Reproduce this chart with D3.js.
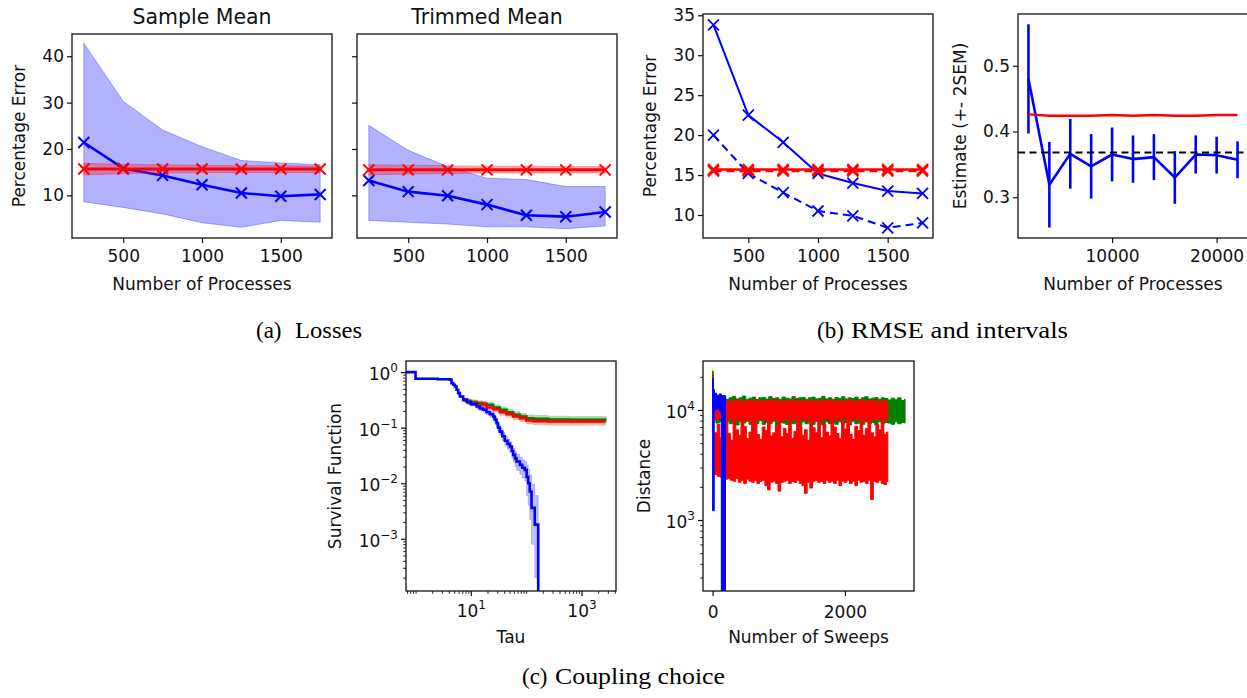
<!DOCTYPE html>
<html><head><meta charset="utf-8">
<script src="https://cdn.jsdelivr.net/npm/d3@7"></script>
<style>body{margin:0;background:#fff}svg{display:block}</style>
</head><body>
<svg id="chart" width="1247" height="698"></svg>
<script>
// ---------------- DATA ----------------
const processes = [250, 500, 750, 1000, 1250, 1500, 1750];
const lossYTicks = [10, 20, 30, 40];
const lossXTicks = [500, 1000, 1500];

// (a) Sample Mean
const smBlue   = [21.4, 15.8, 14.3, 12.3, 10.5, 9.8, 10.2];
const smBlueLo = [8.6, 7.4, 6.0, 4.1, 3.1, 4.6, 4.2];
const smBlueHi = [42.8, 30.3, 24.1, 20.5, 17.5, 17.0, 16.6];
const smRed    = [15.7, 15.7, 15.7, 15.7, 15.7, 15.7, 15.7];
const smRedLo  = [14.4, 14.7, 14.8, 14.9, 14.9, 14.9, 14.9];
const smRedHi  = [16.9, 16.7, 16.6, 16.5, 16.4, 16.4, 16.3];
// (a) Trimmed Mean
const tmBlue   = [13.2, 10.8, 9.9, 8.0, 5.7, 5.4, 6.4];
const tmBlueLo = [4.6, 4.2, 3.8, 3.2, 3.2, 2.8, 3.4];
const tmBlueHi = [25.1, 19.7, 16.2, 13.7, 13.4, 11.9, 11.9];
const tmRed    = [15.5, 15.5, 15.5, 15.5, 15.5, 15.5, 15.5];
const tmRedLo  = [14.4, 14.6, 14.7, 14.8, 14.8, 14.8, 14.8];
const tmRedHi  = [16.6, 16.5, 16.4, 16.3, 16.3, 16.2, 16.2];

// (b) RMSE
const rmseBlueSolid  = [33.8, 22.5, 19.1, 15.2, 14.0, 13.0, 12.7];
const rmseBlueDashed = [20.0, 15.2, 12.8, 10.5, 9.9, 8.4, 9.0];
const rmseRedSolid   = [15.7, 15.7, 15.7, 15.7, 15.7, 15.7, 15.7];
const rmseRedDashed  = [15.5, 15.5, 15.5, 15.5, 15.5, 15.5, 15.5];
const rmseYTicks = [10, 15, 20, 25, 30, 35];

// (b) intervals
const estProcesses = [2000, 4000, 6000, 8000, 10000, 12000, 14000, 16000, 18000, 20000, 22000];
const estBlue    = [0.480, 0.319, 0.366, 0.347, 0.365, 0.358, 0.361, 0.330, 0.365, 0.364, 0.357];
const estBlueErr = [0.083, 0.065, 0.053, 0.049, 0.041, 0.036, 0.035, 0.040, 0.029, 0.028, 0.028];
const estRed     = [0.426, 0.424, 0.424, 0.424, 0.425, 0.424, 0.425, 0.424, 0.424, 0.425, 0.425];
const estTrue = 0.368;
const estYTicks = [0.3, 0.4, 0.5];
const estXTicks = [10000, 20000];

// (c) Survival function: [tau, S, lower, upper]
const survBlue = [
  [0.5,1,1,1],[1,0.758,0.74,0.775],[2.5,0.745,0.727,0.763],[4.17,0.727,0.708,0.745],
  [4.47,0.634,0.615,0.652],[4.8,0.591,0.572,0.61],[5.14,0.552,0.532,0.572],[5.51,0.48,0.46,0.5],
  [5.9,0.418,0.4,0.437],[6.33,0.364,0.346,0.383],[7.27,0.317,0.3,0.335],[8.5,0.29,0.272,0.308],
  [10,0.265,0.247,0.283],[12.7,0.24,0.222,0.258],[14.5,0.222,0.204,0.24],[16.7,0.21,0.192,0.228],
  [19.2,0.19,0.172,0.208],[22,0.175,0.157,0.193],[25.3,0.159,0.142,0.177],[27,0.14,0.124,0.157],
  [29.1,0.12,0.105,0.136],[31,0.1,0.087,0.114],[33.4,0.085,0.073,0.098],[37,0.07,0.059,0.082],
  [41.1,0.058,0.048,0.069],[46,0.051,0.041,0.062],[50.7,0.0457,0.036,0.056],[55,0.038,0.029,0.048],
  [58.2,0.0324,0.024,0.042],[63,0.028,0.02,0.037],[66.9,0.0246,0.017,0.033],[76.9,0.0214,0.0145,0.029],
  [85,0.019,0.0125,0.026],[94.6,0.0174,0.011,0.0245],[102,0.013,0.006,0.021],[109,0.01,0.004,0.018],
  [116,0.0071,0.0022,0.014],[125,0.0036,0.0008,0.0095],[143,0.0018,0.0002,0.006],
  [165,0.00001,0.00001,0.0018],[172,0.00001,0.00001,0.00001]
];
const survGreen = [
  [7.27,0.317,0.3,0.335],[8.5,0.3,0.27,0.33],[10,0.288,0.26,0.318],[12.7,0.276,0.248,0.305],
  [16,0.265,0.238,0.294],[19.2,0.258,0.231,0.287],[25.3,0.231,0.206,0.258],[33.4,0.21,0.186,0.236],
  [44.2,0.19,0.167,0.214],[58.2,0.17,0.149,0.193],[76.9,0.159,0.139,0.181],[101,0.148,0.129,0.169],
  [134,0.144,0.125,0.165],[250,0.14,0.122,0.161],[600,0.138,0.12,0.159],[2830,0.138,0.12,0.159]
];
const survRed = [
  [7.27,0.317,0.3,0.335],[8.5,0.29,0.262,0.32],[10,0.276,0.249,0.305],[12.7,0.265,0.238,0.294],
  [19.2,0.231,0.206,0.258],[25.3,0.215,0.191,0.241],[33.4,0.19,0.168,0.214],[44.2,0.175,0.154,0.198],
  [58.2,0.159,0.139,0.181],[76.9,0.148,0.129,0.169],[101,0.135,0.117,0.155],[134,0.131,0.113,0.151],
  [250,0.129,0.111,0.149],[2700,0.129,0.111,0.149]
];

// (c) Distance traces (envelope of the noisy trace): [sweep, low, high]
const distGreen = [
  [0,14000,22600],[10,9000,15500],[30,8200,14000],[50,7600,13100],[100,7800,12700],[150,7400,13200],
  [200,7900,12500],[250,7500,12900],[300,7700,13300],[350,7300,12600],[400,7800,12900],[450,7600,13400],
  [500,7900,12500],[550,7400,12800],[600,7700,13100],[650,7500,12400],[700,8000,12900],[750,7400,13000],
  [800,7700,12600],[850,7500,13200],[900,7900,12700],[950,7300,12900],[1000,7700,12500],[1050,7600,13100],
  [1100,7400,12800],[1150,7800,12600],[1200,7500,13200],[1250,7700,12700],[1300,7300,12900],[1350,7800,13000],
  [1400,7500,12500],[1450,7700,12900],[1500,7400,13100],[1550,7900,12600],[1600,7600,12800],[1650,7300,13300],
  [1700,7800,12600],[1750,7500,12900],[1800,7700,12500],[1850,7400,13000],[1900,7800,12700],[1950,7500,13200],
  [2000,7700,12600],[2050,7300,12900],[2100,7900,12700],[2150,7500,13100],[2200,7600,12500],[2250,7400,12900],
  [2300,7800,13200],[2350,7500,12600],[2400,7700,12800],[2450,7300,13000],[2500,7800,12500],[2550,7500,12900],
  [2600,7700,12700],[2650,7600,12300],[2700,7400,12800],[2750,7800,12400],[2800,7500,12900],[2850,7700,12200],
  [2900,7600,12500],[2910,7600,12500]
];
const distRedUpper = [
  [0,9500,20800],[12,8300,12600],[40,8100,12300],[90,8300,12000],[140,8000,12400],[190,8200,11800],
  [240,8400,12200],[290,7900,12000],[340,8200,12400],[390,8000,11900],[440,8300,12300],[490,8100,11700],
  [540,7900,12200],[590,8300,12000],[640,8000,12400],[690,8200,11800],[740,8100,12200],[790,7900,12000],
  [840,8300,12300],[890,8000,11900],[940,8200,12400],[990,8100,11800],[1040,7900,12200],[1090,8300,12000],
  [1140,8000,12300],[1190,8200,11900],[1240,8100,12400],[1290,7900,11800],[1340,8300,12200],[1390,8000,12000],
  [1440,8200,12300],[1490,8100,11900],[1540,7900,12200],[1590,8300,11800],[1640,8000,12400],[1690,8200,12000],
  [1740,8100,12200],[1790,7900,11900],[1840,8300,12300],[1890,8000,11800],[1940,8200,12200],[1990,8100,12000],
  [2040,7900,12400],[2090,8300,11900],[2140,8000,12200],[2190,8200,11800],[2240,8100,12300],[2290,7900,12000],
  [2340,8300,12200],[2390,8000,11900],[2440,8200,12300],[2490,8100,11800],[2540,7900,12100],[2590,8300,12000],
  [2640,8000,11900],[2650,8000,11900]
];
const distRedLower = [
  [30,2600,6200],[70,2500,7400],[110,2450,5600],[150,2500,6900],[190,2350,8600],[230,2400,6100],
  [270,2300,5300],[310,2250,7800],[350,2400,6600],[390,2200,5900],[430,2300,8200],[470,2150,7100],
  [510,2350,5500],[550,2250,6300],[590,2200,8600],[630,2300,7600],[670,2150,6000],[710,2250,5400],
  [750,2300,7000],[790,2050,6500],[830,1880,8400],[870,2200,5800],[910,2250,6200],[950,2150,7300],
  [990,1830,8600],[1030,2200,5700],[1070,2250,6800],[1110,2300,6100],[1150,2150,7900],[1190,2250,5500],
  [1230,2200,6400],[1270,2300,8600],[1310,2150,7200],[1350,2050,5900],[1390,1750,6600],[1430,2200,5300],
  [1470,1950,8100],[1510,2250,6900],[1550,2300,6200],[1590,2200,8600],[1630,2250,5600],[1670,2150,7500],
  [1710,2300,6300],[1750,2200,5800],[1790,2250,8600],[1830,2150,7000],[1870,2300,6100],[1910,2050,5500],
  [1950,2250,7700],[1990,2200,6700],[2030,2300,8600],[2070,2150,6000],[2110,2250,5400],[2150,2050,7100],
  [2190,2300,6500],[2230,2200,8300],[2270,2250,5900],[2310,2150,6800],[2350,2300,8600],[2390,1540,6200],
  [2430,2250,5700],[2470,2200,7400],[2510,2300,6600],[2550,2150,8600],[2590,2100,6000],[2630,2250,6300],
  [2650,2250,6300]
];
const distBlue = [
  [0,1215,19500],[10,1215,15000],[25,10000,14200],[60,10300,13600],[100,9800,14000],
  [132,100,13500],[195,100,13500]
];

// ---------------- DRAWING ----------------
const svg = d3.select("#chart");
const FONT = "DejaVu Sans";
const FS = 17;
const INK = "#111";
const defs = svg.append("defs");

function makePlot(box, id) {
  defs.append("clipPath").attr("id", id).append("rect")
    .attr("x", box.x0).attr("y", box.y0).attr("width", box.x1 - box.x0).attr("height", box.y1 - box.y0);
  return svg.append("g").attr("clip-path", `url(#${id})`);
}
function frame(box) {
  svg.append("rect").attr("x", box.x0).attr("y", box.y0)
    .attr("width", box.x1 - box.x0).attr("height", box.y1 - box.y0)
    .attr("fill", "none").attr("stroke", INK).attr("stroke-width", 1.3);
}
function styleAxis(g) {
  g.select(".domain").remove();
  g.selectAll(".tick line").attr("stroke", INK).attr("stroke-width", 1.2);
  g.selectAll(".tick text").attr("font-family", FONT).attr("font-size", FS).attr("fill", INK);
}
function supLabel(textSel, exp) {
  textSel.text(null);
  textSel.append("tspan").text("10");
  textSel.append("tspan").attr("dy", -8).attr("font-size", 12)
    .text(exp < 0 ? "\u2212" + (-exp) : String(exp));
}
function xAxis(box, scale, ticks, fmt, log) {
  const g = svg.append("g").attr("transform", `translate(0,${box.y1})`)
    .call(d3.axisBottom(scale).tickValues(ticks).tickSize(5).tickPadding(log ? 9 : 7)
      .tickFormat(fmt || (d => d)));
  styleAxis(g);
  if (log) g.selectAll(".tick text").each(function(d) { supLabel(d3.select(this), Math.round(Math.log10(d))); });
  return g;
}
function yAxis(box, scale, ticks, fmt, log) {
  const g = svg.append("g").attr("transform", `translate(${box.x0},0)`)
    .call(d3.axisLeft(scale).tickValues(ticks).tickSize(5).tickPadding(3)
      .tickFormat(fmt || (d => d)));
  styleAxis(g);
  if (log) g.selectAll(".tick text").attr("dy", "0.45em")
    .each(function(d) { supLabel(d3.select(this), Math.round(Math.log10(d))); });
  return g;
}
function minorTicks(box, scale, ticks, orient) {
  const ax = orient === "x" ? d3.axisBottom(scale) : d3.axisLeft(scale);
  const g = svg.append("g").attr("transform", orient === "x" ? `translate(0,${box.y1})` : `translate(${box.x0},0)`)
    .call(ax.tickValues(ticks).tickSize(2.8).tickFormat(""));
  g.select(".domain").remove();
  g.selectAll(".tick line").attr("stroke", INK).attr("stroke-width", 0.9);
}
function xLabel(box, text, y) {
  svg.append("text").attr("x", (box.x0 + box.x1) / 2).attr("y", y).attr("text-anchor", "middle")
    .attr("font-family", FONT).attr("font-size", FS).attr("fill", INK).text(text);
}
function yLabel(box, text, x) {
  const cy = (box.y0 + box.y1) / 2;
  svg.append("text").attr("transform", `translate(${x},${cy}) rotate(-90)`).attr("text-anchor", "middle")
    .attr("font-family", FONT).attr("font-size", FS).attr("fill", INK).text(text);
}
function xMarkers(plot, pts, color, r, sw) {
  plot.append("g").selectAll("path").data(pts).join("path")
    .attr("d", d => `M${d[0]-r},${d[1]-r}L${d[0]+r},${d[1]+r}M${d[0]-r},${d[1]+r}L${d[0]+r},${d[1]-r}`)
    .attr("stroke", color).attr("stroke-width", sw).attr("fill", "none");
}
function linePath(plot, xs, ys, x, y, color, lw, dash) {
  const p = plot.append("path").datum(xs.map((v, i) => [x(v), y(ys[i])]))
    .attr("d", d3.line()).attr("fill", "none").attr("stroke", color).attr("stroke-width", lw)
    .attr("stroke-linejoin", "round");
  if (dash) p.attr("stroke-dasharray", dash);
  return xs.map((v, i) => [x(v), y(ys[i])]);
}

// ---- (a) loss panels ----
function lossPanel(box, id, title, bl, blLo, blHi, rd, rdLo, rdHi, labels) {
  const x = d3.scaleLinear().domain([175, 1825]).range([box.x0, box.x1]);
  const y = d3.scaleLinear().domain([0.8, 44.8]).range([box.y1, box.y0]);
  const plot = makePlot(box, id);
  const band = (lo, hi) => d3.area().x(d => x(d)).y0((d, i) => y(lo[i])).y1((d, i) => y(hi[i]));
  plot.append("path").datum(processes).attr("d", band(blLo, blHi))
    .attr("fill", "#0000ff").attr("fill-opacity", 0.3).attr("stroke", "#0000ff").attr("stroke-opacity", 0.3);
  const bp = linePath(plot, processes, bl, x, y, "#0000ff", 2.6);
  xMarkers(plot, bp, "#0000ff", 5.5, 2);
  plot.append("path").datum(processes).attr("d", band(rdLo, rdHi))
    .attr("fill", "#ff0000").attr("fill-opacity", 0.3).attr("stroke", "#ff0000").attr("stroke-opacity", 0.3);
  const rp = linePath(plot, processes, rd, x, y, "#ff0000", 3);
  xMarkers(plot, rp, "#ff0000", 5.5, 2);
  frame(box);
  xAxis(box, x, lossXTicks);
  yAxis(box, y, lossYTicks, labels ? null : () => "");
  svg.append("text").attr("x", (box.x0 + box.x1) / 2).attr("y", 24).attr("text-anchor", "middle")
    .attr("font-family", FONT).attr("font-size", 20.5).attr("fill", INK).text(title);
  if (labels) {
    xLabel(box, "Number of Processes", 290);
    yLabel(box, "Percentage Error", 25);
  }
}
lossPanel({x0: 72, y0: 34, x1: 332, y1: 238}, "c1", "Sample Mean",
  smBlue, smBlueLo, smBlueHi, smRed, smRedLo, smRedHi, true);
lossPanel({x0: 357, y0: 34, x1: 617, y1: 238}, "c2", "Trimmed Mean",
  tmBlue, tmBlueLo, tmBlueHi, tmRed, tmRedLo, tmRedHi, false);

// ---- (b) RMSE ----
{
  const box = {x0: 703, y0: 14, x1: 933, y1: 238};
  const x = d3.scaleLinear().domain([175, 1825]).range([box.x0, box.x1]);
  const y = d3.scaleLinear().domain([7.12, 35.16]).range([box.y1, box.y0]);
  const plot = makePlot(box, "c3");
  const p1 = linePath(plot, processes, rmseBlueSolid, x, y, "#0000ff", 2);
  xMarkers(plot, p1, "#0000ff", 5.5, 1.8);
  const p2 = linePath(plot, processes, rmseBlueDashed, x, y, "#0000ff", 2, "8,5");
  xMarkers(plot, p2, "#0000ff", 5.5, 1.8);
  const p3 = linePath(plot, processes, rmseRedSolid, x, y, "#ff0000", 2.5);
  xMarkers(plot, p3, "#ff0000", 5.5, 2.2);
  const p4 = linePath(plot, processes, rmseRedDashed, x, y, "#ff0000", 2.5, "8,5");
  xMarkers(plot, p4, "#ff0000", 5.5, 2.2);
  frame(box);
  xAxis(box, x, lossXTicks);
  yAxis(box, y, rmseYTicks);
  xLabel(box, "Number of Processes", 290);
  yLabel(box, "Percentage Error", 655.7);
}

// ---- (b) intervals ----
{
  const box = {x0: 1018, y0: 14, x1: 1248, y1: 238};
  const x = d3.scaleLinear().domain([1000, 23000]).range([box.x0, box.x1]);
  const y = d3.scaleLinear().domain([0.238, 0.5787]).range([box.y1, box.y0]);
  const plot = makePlot(box, "c4");
  plot.append("g").selectAll("line").data(estProcesses).join("line")
    .attr("x1", d => x(d)).attr("x2", d => x(d))
    .attr("y1", (d, i) => y(estBlue[i] - estBlueErr[i])).attr("y2", (d, i) => y(estBlue[i] + estBlueErr[i]))
    .attr("stroke", "#0000ff").attr("stroke-width", 2.6);
  linePath(plot, estProcesses, estBlue, x, y, "#0000ff", 2.6);
  linePath(plot, estProcesses, estRed, x, y, "#ff0000", 2.4);
  plot.append("line").attr("x1", box.x0).attr("x2", box.x1).attr("y1", y(estTrue)).attr("y2", y(estTrue))
    .attr("stroke", "#000").attr("stroke-width", 2).attr("stroke-dasharray", "7,4.5");
  frame(box);
  xAxis(box, x, estXTicks);
  yAxis(box, y, estYTicks, d3.format(".1f"));
  xLabel(box, "Number of Processes", 290);
  yLabel(box, "Estimate (+- 2SEM)", 965.7);
}

// ---- (c) survival ----
{
  const box = {x0: 406, y0: 361, x1: 616, y1: 591};
  const x = d3.scaleLog().domain([Math.pow(10, -0.1726), Math.pow(10, 3.6245)]).range([box.x0, box.x1]);
  const y = d3.scaleLog().domain([Math.pow(10, -3.94), Math.pow(10, 0.2)]).range([box.y1, box.y0]).clamp(true);
  const plot = makePlot(box, "c5");
  const band = d3.area().curve(d3.curveStepAfter).x(d => x(d[0])).y0(d => y(d[2])).y1(d => y(d[3]));
  const line = d3.line().curve(d3.curveStepAfter).x(d => x(d[0])).y(d => y(d[1]));
  [[survGreen, "#008000"], [survRed, "#ff0000"], [survBlue, "#0000ff"]].forEach(([s, c]) => {
    plot.append("path").datum(s).attr("d", band).attr("fill", c).attr("fill-opacity", 0.25)
      .attr("stroke", c).attr("stroke-opacity", 0.2).attr("stroke-width", 1);
  });
  [[survGreen, "#008000"], [survRed, "#ff0000"], [survBlue, "#0000ff"]].forEach(([s, c]) => {
    plot.append("path").datum(s).attr("d", line).attr("fill", "none").attr("stroke", c).attr("stroke-width", 2.6);
  });
  frame(box);
  const xMinor = [];
  [-1, 0, 1, 2, 3].forEach(k => { for (let m = 1; m <= 9; m++) { const v = m * Math.pow(10, k);
    if (!(m === 1 && (k === 1 || k === 3)) && v > x.domain()[0] && v < x.domain()[1]) xMinor.push(v); } });
  const yMinor = [];
  [-4, -3, -2, -1, 0].forEach(k => { for (let m = 2; m <= 9; m++) { const v = m * Math.pow(10, k);
    if (v > y.domain()[0] && v < y.domain()[1]) yMinor.push(v); } });
  minorTicks(box, x, xMinor, "x");
  minorTicks(box, y, yMinor, "y");
  xAxis(box, x, [10, 1000], null, true);
  yAxis(box, y, [1, 0.1, 0.01, 0.001], null, true);
  xLabel(box, "Tau", 642.5);
  yLabel(box, "Survival Function", 340.7);
}

// ---- (c) distance ----
{
  const box = {x0: 703, y0: 361, x1: 914, y1: 591};
  const x = d3.scaleLinear().domain([-145, 3045]).range([box.x0, box.x1]);
  const y = d3.scaleLog().domain([Math.pow(10, 2.355), Math.pow(10, 4.445)]).range([box.y1, box.y0]);
  const plot = makePlot(box, "c6");
  const env = d3.area().curve(d3.curveStepAfter).x(d => x(d[0])).y0(d => y(d[1])).y1(d => y(d[2]));
  [[distGreen, "#008000"], [distRedUpper, "#ff0000"], [distRedLower, "#ff0000"], [distBlue, "#0000ff"]]
    .forEach(([s, c]) => {
      plot.append("path").datum(s).attr("d", env).attr("fill", c).attr("stroke", c).attr("stroke-width", 1);
    });
  frame(box);
  const yMinor = [];
  [2, 3, 4].forEach(k => { for (let m = 2; m <= 9; m++) { const v = m * Math.pow(10, k);
    if (v > y.domain()[0] && v < y.domain()[1]) yMinor.push(v); } });
  minorTicks(box, y, yMinor, "y");
  xAxis(box, x, [0, 2000]).selectAll(".tick text").attr("dy", "0.9em");
  yAxis(box, y, [1000, 10000], null, true);
  xLabel(box, "Number of Sweeps", 642.5);
  yLabel(box, "Distance", 649.7);
}

// ---- captions ----
function caption(x1, lab, x2, title, len, yb) {
  const t = svg.append("text").attr("y", yb).attr("font-family", "Liberation Serif").attr("font-size", 23).attr("fill", "#000");
  t.append("tspan").attr("x", x1).text(lab);
  t.append("tspan").attr("x", x2).attr("textLength", len).attr("lengthAdjust", "spacingAndGlyphs").text(title);
}
caption(256, "(a)", 295, "Losses", 67, 338);
caption(817, "(b)", 851, "RMSE and intervals", 217, 338);
caption(522, "(c)", 555, "Coupling choice", 170, 684);
</script>
</body></html>
